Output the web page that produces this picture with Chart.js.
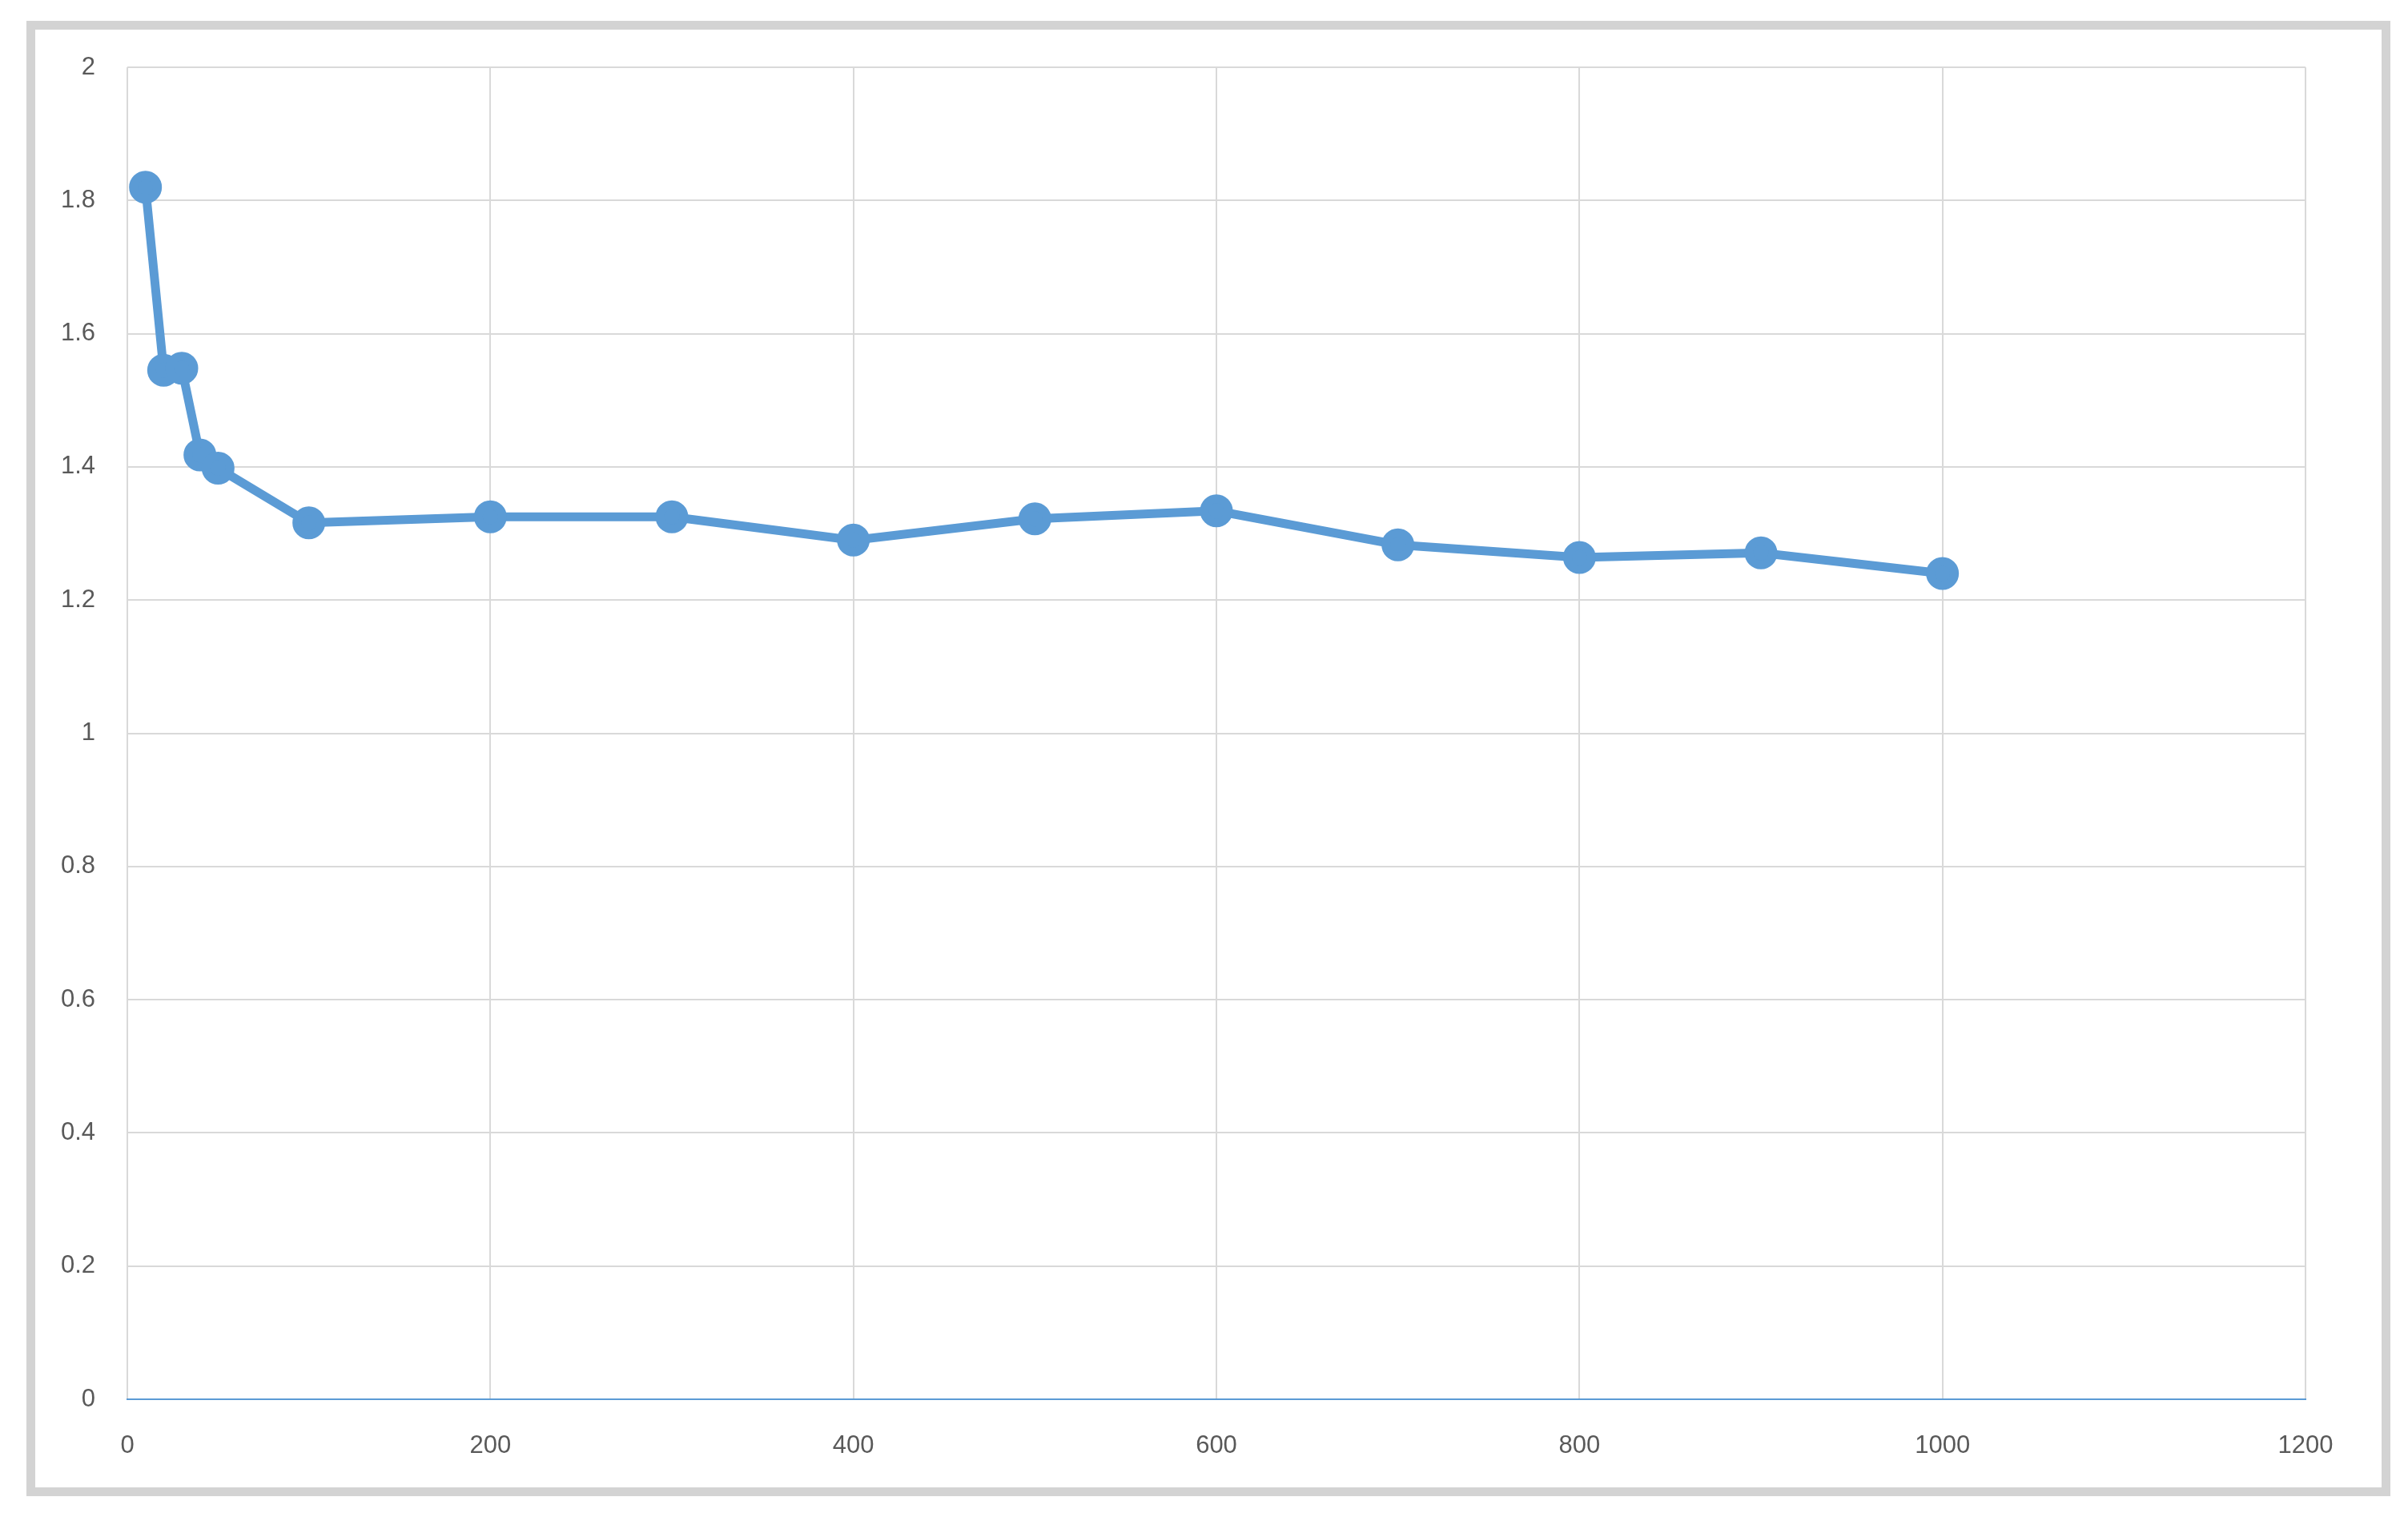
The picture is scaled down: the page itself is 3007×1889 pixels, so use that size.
<!DOCTYPE html>
<html><head><meta charset="utf-8">
<script src="https://cdn.jsdelivr.net/npm/chart.js@4/dist/chart.umd.min.js"></script>
<style>
html,body{margin:0;padding:0;background:#fff;width:3007px;height:1889px;overflow:hidden}
#frame{position:absolute;left:33px;top:26px;width:2930px;height:1820px;border:11px solid #d3d3d3}
#wrap{position:absolute;left:0;top:0;width:3007px;height:1889px}
</style></head><body>
<div id="frame"></div>
<div id="wrap"><canvas id="c" width="3007" height="1889"></canvas></div>
<script>
const xValues=[10,20,30,40,50,100,200,300,400,500,600,700,800,900,1000];
const yValues=[1.82,1.545,1.548,1.418,1.398,1.316,1.325,1.325,1.29,1.322,1.334,1.283,1.264,1.271,1.24];
const xTicks=[0,200,400,600,800,1000,1200];
const yTicks=[0,0.2,0.4,0.6,0.8,1,1.2,1.4,1.6,1.8,2];
const pts=xValues.map((x,i)=>({x:x,y:yValues[i]}));
new Chart(document.getElementById('c'),{
type:'line',
data:{datasets:[{data:pts,borderColor:'#5B9BD5',backgroundColor:'#5B9BD5',borderWidth:11,pointRadius:15,pointHoverRadius:15,tension:0}]},
options:{responsive:false,animation:false,devicePixelRatio:1,
layout:{padding:{top:84,right:128,left:0,bottom:0}},
plugins:{legend:{display:false},tooltip:{enabled:false}},
scales:{
x:{type:'linear',min:0,max:1200,afterBuildTicks:s=>{s.ticks=xTicks.map(v=>({value:v}))},
 afterFit:s=>{s.height=142},
 grid:{color:'#d9d9d9',lineWidth:2,drawTicks:false},border:{color:'#5B9BD5',width:2},
 ticks:{padding:40,color:'#595959',font:{family:'Liberation Sans, Arial',size:31},maxRotation:0,callback:v=>String(v)}},
y:{min:0,max:2,afterBuildTicks:s=>{s.ticks=yTicks.map(v=>({value:v}))},
 afterFit:s=>{s.width=159},
 grid:{color:'#d9d9d9',lineWidth:2,drawTicks:false},border:{display:false},
 ticks:{padding:40,color:'#595959',font:{family:'Liberation Sans, Arial',size:31},callback:v=>String(Math.round(v*10)/10)}}
}}});
</script></body></html>
